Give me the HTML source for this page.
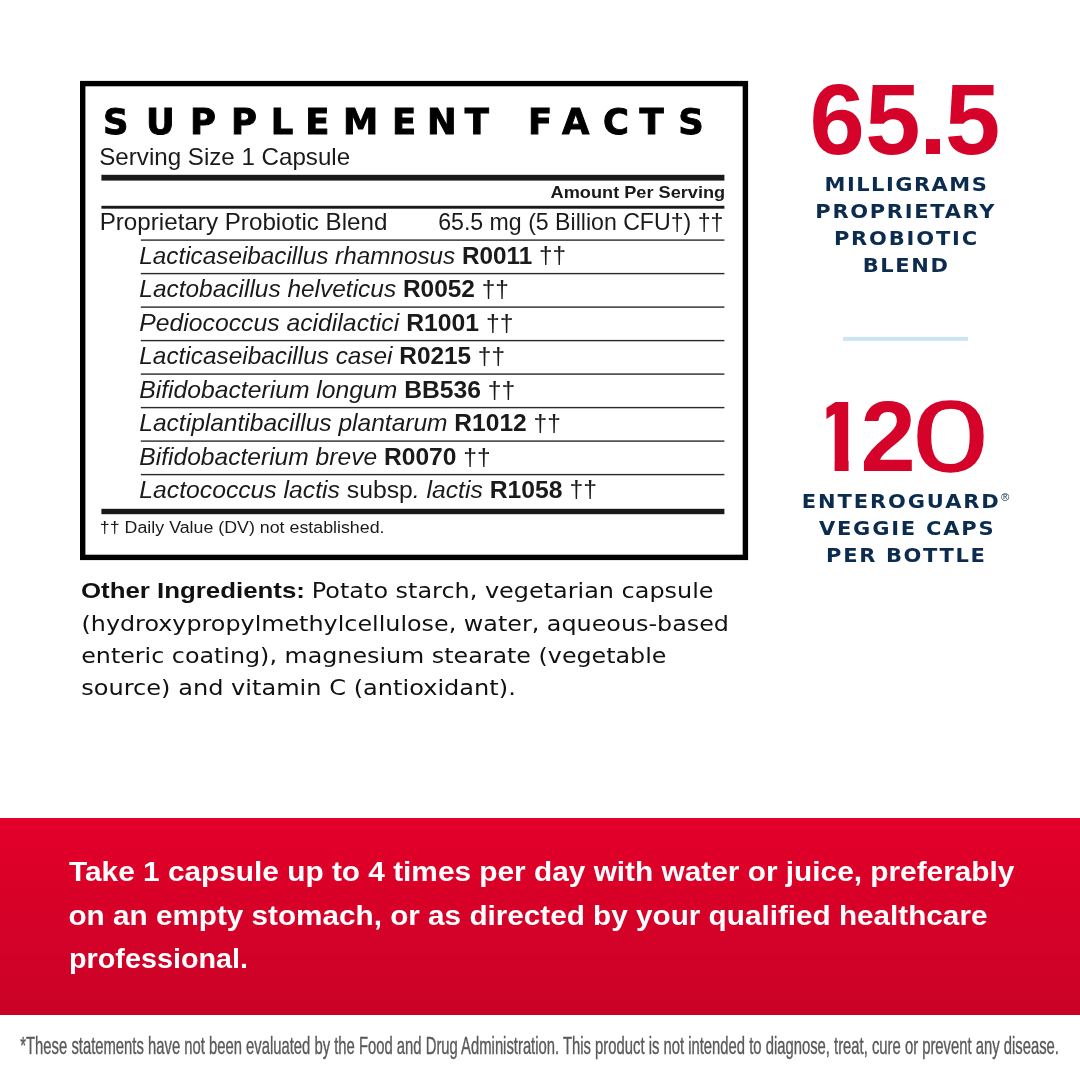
<!DOCTYPE html>
<html lang="en"><head><meta charset="utf-8"><title>Supplement Facts</title>
<style>
html,body{margin:0;padding:0;background:#fff;}
body{width:1080px;height:1080px;overflow:hidden;}
svg{display:block;position:absolute;left:0;top:0;}
body{position:relative;}
.n120{position:absolute;left:0;top:0;font-family:"Liberation Sans",sans-serif;font-size:99.4px;line-height:1;color:#d50329;white-space:nowrap;}
.n120 span{position:absolute;top:386.9px;display:block;}
.d1{left:811.6px;font-weight:bold;clip-path:polygon(14.9px 0,37px 0,37px 100%,23px 100%,23px 73px,14.9px 73px);}
.d2{left:860.4px;font-weight:bold;}
.d0{left:912.7px;font-weight:normal;transform-origin:0 0;transform:scaleX(1.356);-webkit-text-stroke:1.4px #d50329;}
text{white-space:pre;}
</style></head><body>
<svg width="1080" height="1080" viewBox="0 0 1080 1080">
<defs><linearGradient id="rg" x1="0" y1="0" x2="0" y2="1"><stop offset="0" stop-color="#e3002a"/><stop offset="1" stop-color="#c90226"/></linearGradient></defs>
<rect width="1080" height="1080" fill="#fff"/>
<rect x="0" y="818" width="1080" height="197" fill="url(#rg)"/>
<rect x="82.7" y="83.6" width="662.7" height="473.8" fill="none" stroke="#000" stroke-width="5.4"/>
<rect x="101.4" y="174.8" width="623" height="5.8" fill="#1a1a1a"/>
<rect x="101.4" y="205.8" width="623" height="2.9" fill="#1a1a1a"/>
<rect x="101.4" y="508.8" width="623" height="5.4" fill="#1a1a1a"/>
<rect x="843" y="336.9" width="125" height="4" fill="#cfe4f2"/>
<rect x="140.8" y="239.4" width="583.6" height="1.4" fill="#2a2a2a"/>
<rect x="140.8" y="272.9" width="583.6" height="1.4" fill="#2a2a2a"/>
<rect x="140.8" y="306.4" width="583.6" height="1.4" fill="#2a2a2a"/>
<rect x="140.8" y="339.9" width="583.6" height="1.4" fill="#2a2a2a"/>
<rect x="140.8" y="373.4" width="583.6" height="1.4" fill="#2a2a2a"/>
<rect x="140.8" y="406.9" width="583.6" height="1.4" fill="#2a2a2a"/>
<rect x="140.8" y="440.4" width="583.6" height="1.4" fill="#2a2a2a"/>
<rect x="140.8" y="473.9" width="583.6" height="1.4" fill="#2a2a2a"/>
<text x="103.0 146.1 190.0 230.9 270.7 305.2 343.0 391.9 427.1 464.8 500 528.0 562.1 603.0 639.6 678.3" y="134.4" font-family='"DejaVu Sans", "Liberation Sans", sans-serif' font-size="35.4" font-weight="bold" fill="#000" stroke="#000" stroke-width="0.9">SUPPLEMENT FACTS</text>
<text transform="translate(99.27 164.5) scale(1.0318 1)" font-family='"Liberation Sans", sans-serif' font-size="23.4" font-weight="normal" font-style="normal" fill="#1a1a1a" >Serving Size 1 Capsule</text>
<text transform="translate(550.60 198.0) scale(1.0446 1)" font-family='"Liberation Sans", sans-serif' font-size="17.4" font-weight="bold" font-style="normal" fill="#1a1a1a" >Amount Per Serving</text>
<text transform="translate(99.67 229.6) scale(1.0344 1)" font-family='"Liberation Sans", sans-serif' font-size="23.4" font-weight="normal" font-style="normal" fill="#1a1a1a" >Proprietary Probiotic Blend</text>
<text transform="translate(438.21 229.6) scale(0.9881 1)" font-family='"Liberation Sans", sans-serif' font-size="23.4" font-weight="normal" font-style="normal" fill="#1a1a1a" >65.5 mg (5 Billion CFU†) ††</text>
<text transform="translate(139.30 263.5) scale(1.0383 1)" font-family='"Liberation Sans", sans-serif' font-size="23.4" font-weight="normal" font-style="normal" fill="#1a1a1a" ><tspan font-style="italic">Lacticaseibacillus rhamnosus</tspan> <tspan font-weight="bold">R0011</tspan> ††</text>
<text transform="translate(139.30 297.0) scale(1.0453 1)" font-family='"Liberation Sans", sans-serif' font-size="23.4" font-weight="normal" font-style="normal" fill="#1a1a1a" ><tspan font-style="italic">Lactobacillus helveticus</tspan> <tspan font-weight="bold">R0052</tspan> ††</text>
<text transform="translate(139.30 330.5) scale(1.0578 1)" font-family='"Liberation Sans", sans-serif' font-size="23.4" font-weight="normal" font-style="normal" fill="#1a1a1a" ><tspan font-style="italic">Pediococcus acidilactici</tspan> <tspan font-weight="bold">R1001</tspan> ††</text>
<text transform="translate(139.30 364.1) scale(1.0420 1)" font-family='"Liberation Sans", sans-serif' font-size="23.4" font-weight="normal" font-style="normal" fill="#1a1a1a" ><tspan font-style="italic">Lacticaseibacillus casei</tspan> <tspan font-weight="bold">R0215</tspan> ††</text>
<text transform="translate(139.30 397.6) scale(1.0555 1)" font-family='"Liberation Sans", sans-serif' font-size="23.4" font-weight="normal" font-style="normal" fill="#1a1a1a" ><tspan font-style="italic">Bifidobacterium longum</tspan> <tspan font-weight="bold">BB536</tspan> ††</text>
<text transform="translate(139.30 431.1) scale(1.0491 1)" font-family='"Liberation Sans", sans-serif' font-size="23.4" font-weight="normal" font-style="normal" fill="#1a1a1a" ><tspan font-style="italic">Lactiplantibacillus plantarum</tspan> <tspan font-weight="bold">R1012</tspan> ††</text>
<text transform="translate(139.30 464.6) scale(1.0511 1)" font-family='"Liberation Sans", sans-serif' font-size="23.4" font-weight="normal" font-style="normal" fill="#1a1a1a" ><tspan font-style="italic">Bifidobacterium breve</tspan> <tspan font-weight="bold">R0070</tspan> ††</text>
<text transform="translate(139.30 498.1) scale(1.0572 1)" font-family='"Liberation Sans", sans-serif' font-size="23.4" font-weight="normal" font-style="normal" fill="#1a1a1a" ><tspan font-style="italic">Lactococcus lactis</tspan> subsp<tspan font-style="italic">. lactis</tspan> <tspan font-weight="bold">R1058</tspan> ††</text>
<text transform="translate(99.87 533.2) scale(1.0296 1)" font-family='"Liberation Sans", sans-serif' font-size="17.3" font-weight="normal" font-style="normal" fill="#1a1a1a" >†† Daily Value (DV) not established.</text>
<text transform="translate(80.97 598.4) scale(1.1338 1)" font-family='"Liberation Sans", sans-serif' font-size="22.8" font-weight="bold" font-style="normal" fill="#111" >Other Ingredients: </text>
<text transform="translate(311.77 598.4) scale(1.1128 1)" font-family='"DejaVu Sans", "Liberation Sans", sans-serif' font-size="21.5" font-weight="normal" font-style="normal" fill="#111" >Potato starch, vegetarian capsule</text>
<text transform="translate(81.49 630.6) scale(1.1089 1)" font-family='"DejaVu Sans", "Liberation Sans", sans-serif' font-size="21.5" font-weight="normal" font-style="normal" fill="#111" >(hydroxypropylmethylcellulose, water, aqueous-based</text>
<text transform="translate(81.19 662.8) scale(1.1068 1)" font-family='"DejaVu Sans", "Liberation Sans", sans-serif' font-size="21.5" font-weight="normal" font-style="normal" fill="#111" >enteric coating), magnesium stearate (vegetable</text>
<text transform="translate(81.18 695.0) scale(1.1200 1)" font-family='"DejaVu Sans", "Liberation Sans", sans-serif' font-size="21.5" font-weight="normal" font-style="normal" fill="#111" >source) and vitamin C (antioxidant).</text>
<text transform="translate(824.50 190.7) scale(1.1 1)" letter-spacing="1.35" font-family='"DejaVu Sans", "Liberation Sans", sans-serif' font-size="19.1" font-weight="bold" font-style="normal" fill="#0b2c4f" >MILLIGRAMS</text>
<text transform="translate(815.30 217.7) scale(1.1 1)" letter-spacing="1.54" font-family='"DejaVu Sans", "Liberation Sans", sans-serif' font-size="19.1" font-weight="bold" font-style="normal" fill="#0b2c4f" >PROPRIETARY</text>
<text transform="translate(833.90 244.7) scale(1.1 1)" letter-spacing="1.66" font-family='"DejaVu Sans", "Liberation Sans", sans-serif' font-size="19.1" font-weight="bold" font-style="normal" fill="#0b2c4f" >PROBIOTIC</text>
<text transform="translate(862.80 271.8) scale(1.1 1)" letter-spacing="1.43" font-family='"DejaVu Sans", "Liberation Sans", sans-serif' font-size="19.1" font-weight="bold" font-style="normal" fill="#0b2c4f" >BLEND</text>
<text transform="translate(801.70 508.1) scale(1.1 1)" letter-spacing="1.73" font-family='"DejaVu Sans", "Liberation Sans", sans-serif' font-size="19.1" font-weight="bold" font-style="normal" fill="#0b2c4f" >ENTEROGUARD</text>
<text transform="translate(818.90 535.1) scale(1.1 1)" letter-spacing="1.64" font-family='"DejaVu Sans", "Liberation Sans", sans-serif' font-size="19.1" font-weight="bold" font-style="normal" fill="#0b2c4f" >VEGGIE CAPS</text>
<text transform="translate(826.10 562.2) scale(1.1 1)" letter-spacing="1.51" font-family='"DejaVu Sans", "Liberation Sans", sans-serif' font-size="19.1" font-weight="bold" font-style="normal" fill="#0b2c4f" >PER BOTTLE</text>
<text transform="translate(1000.90 500.8) scale(1.0250 1)" font-family='"Liberation Sans", sans-serif' font-size="11" font-weight="normal" font-style="normal" fill="#0b2c4f" >®</text>
<text transform="translate(69.00 880.8) scale(1.0465 1)" font-family='"Liberation Sans", sans-serif' font-size="28.5" font-weight="bold" font-style="normal" fill="#fff" >Take 1 capsule up to 4 times per day with water or juice, preferably</text>
<text transform="translate(68.46 924.5) scale(1.0423 1)" font-family='"Liberation Sans", sans-serif' font-size="28.5" font-weight="bold" font-style="normal" fill="#fff" >on an empty stomach, or as directed by your qualified healthcare</text>
<text transform="translate(68.99 967.7) scale(1.0097 1)" font-family='"Liberation Sans", sans-serif' font-size="28.5" font-weight="bold" font-style="normal" fill="#fff" >professional.</text>
<text transform="translate(20.30 1054.4) scale(0.6179 1)" font-family='"Liberation Sans", sans-serif' font-size="24.0" font-weight="normal" font-style="normal" fill="#5a5a5a" stroke="#5a5a5a" stroke-width="0.4">*These statements have not been evaluated by the Food and Drug Administration. This product is not intended to diagnose, treat, cure or prevent any disease.</text>
<text x="809.4 865.2 919.3 944.9" y="153.6" font-family='"Liberation Sans", sans-serif' font-size="99.4" font-weight="bold" fill="#d50329">65.5</text>
</svg>
<div class="n120"><span class="d1">1</span><span class="d2">2</span><span class="d0">0</span></div>
</body></html>
